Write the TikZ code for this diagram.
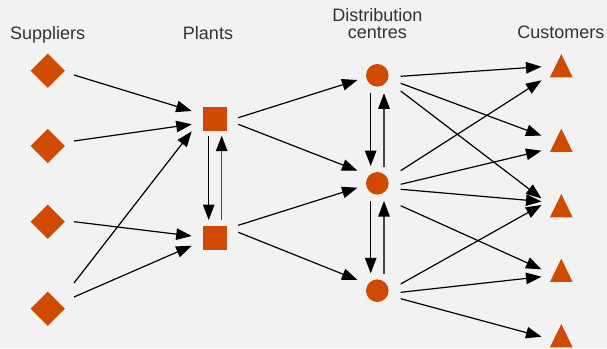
\documentclass[tikz,border=0pt]{standalone}
\usepackage{fontspec}
\setmainfont{Liberation Sans}
\usetikzlibrary{shapes.geometric,arrows.meta}
\definecolor{bg}{HTML}{F2F2F2}
\definecolor{pwcorange}{HTML}{D04A02}
\definecolor{labelgray}{HTML}{333333}
\tikzset{
  supplier/.style={diamond, fill=pwcorange, inner sep=0pt, minimum width=34.4pt, minimum height=34.4pt},
  plant/.style={rectangle, fill=pwcorange, inner sep=0pt, minimum size=24pt},
  centre/.style={circle, fill=pwcorange, inner sep=0pt, minimum size=22.6pt},
  customer/.style={rectangle, inner sep=0pt, minimum width=22.7pt, minimum height=23.3pt,
    path picture={\fill[pwcorange] (path picture bounding box.south west) -- (path picture bounding box.south east) -- (path picture bounding box.north) -- cycle;}},
  heading/.style={text=labelgray, font=\fontsize{18pt}{16.6pt}\selectfont, align=center, inner sep=0pt, anchor=base},
  flow/.style={draw=black, line width=1.2pt, -{Triangle[length=15.5pt, width=11.5pt, color=black]}},
  backflow/.style={flow, draw=black!72}
}
\begin{document}
\begin{tikzpicture}[x=1pt, y=-1pt]
  \fill[bg] (0,0) rectangle (607,348);
  \useasboundingbox (0,0) rectangle (607,348);

  % column headings
  \node[heading] (hsup) at (47.7,39.3) {Suppliers};
  \node[heading] (hpla) at (208,39.3) {Plants};
  \node[heading] (hdc1) at (377.3,21.7) {Distribution};
  \node[heading] (hdc2) at (377.3,38.3) {centres};
  \node[heading] (hcus) at (560.8,38.8) {Customers};

  % suppliers
  \node[supplier] (s1) at (47.7,70.7) {};
  \node[supplier] (s2) at (47.7,146) {};
  \node[supplier] (s3) at (47.7,221.7) {};
  \node[supplier] (s4) at (47.7,308.7) {};

  % plants
  \node[plant] (p1) at (215,118.7) {};
  \node[plant] (p2) at (215,238) {};

  % distribution centres
  \node[centre] (d1) at (377.3,75.3) {};
  \node[centre] (d2) at (377.3,183.3) {};
  \node[centre] (d3) at (377.3,290.7) {};

  % customers
  \node[customer] (c1) at (561.3,65.7) {};
  \node[customer] (c2) at (561.3,140.3) {};
  \node[customer] (c3) at (561.3,205.7) {};
  \node[customer] (c4) at (561.3,270.3) {};
  \node[customer] (c5) at (561.3,335.7) {};

  % suppliers to plants
  \draw[flow] ([shift={(26.3,4.3)}]s1.center) -- ([shift={(-23.3,-7.7)}]p1.center);
  \draw[flow] ([shift={(26.3,-5)}]s2.center) -- ([shift={(-23.3,5.6)}]p1.center);
  \draw[flow] ([shift={(26.3,-25.7)}]s4.center) -- ([shift={(-23.3,12.6)}]p1.center);
  \draw[flow] ([shift={(26.3,0)}]s3.center) -- ([shift={(-23.3,-2)}]p2.center);
  \draw[flow] ([shift={(26.3,-11.7)}]s4.center) -- ([shift={(-23.3,7.7)}]p2.center);

  % between plants
  \draw[flow] ([shift={(-6.3,17)}]p1.center) -- ([shift={(-6.3,-18)}]p2.center);
  \draw[backflow] ([shift={(6.7,-18)}]p2.center) -- ([shift={(6.7,17)}]p1.center);

  % plants to distribution centres
  \draw[flow] ([shift={(23.3,-1)}]p1.center) -- ([shift={(-19.8,4.7)}]d1.center);
  \draw[flow] ([shift={(23.3,5.6)}]p1.center) -- ([shift={(-19.8,-12.6)}]d2.center);
  \draw[flow] ([shift={(23.3,-12.7)}]p2.center) -- ([shift={(-19.8,4.4)}]d2.center);
  \draw[flow] ([shift={(23.3,-5.7)}]p2.center) -- ([shift={(-19.8,-10.7)}]d3.center);

  % between distribution centres
  \draw[flow] ([shift={(-6.6,17.4)}]d1.center) -- ([shift={(-6.6,-17.3)}]d2.center);
  \draw[backflow] ([shift={(6.7,-16.6)}]d2.center) -- ([shift={(6.7,18)}]d1.center);
  \draw[flow] ([shift={(-6.6,17.4)}]d2.center) -- ([shift={(-6.6,-17.4)}]d3.center);
  \draw[backflow] ([shift={(6.7,-16.7)}]d3.center) -- ([shift={(6.7,17.7)}]d2.center);

  % distribution centres to customers
  \draw[flow] ([shift={(23.4,1)}]d1.center) -- ([shift={(-19.8,1)}]c1.center);
  \draw[flow] ([shift={(23.4,8)}]d1.center) -- ([shift={(-19.8,-4.6)}]c2.center);
  \draw[flow] ([shift={(23.4,15.7)}]d1.center) -- ([shift={(-19.8,-7.2)}]c3.center);
  \draw[flow] ([shift={(23.4,-12.6)}]d2.center) -- ([shift={(-19.8,14.6)}]c1.center);
  \draw[flow] ([shift={(23.4,1)}]d2.center) -- ([shift={(-19.8,10.4)}]c2.center);
  \draw[flow] ([shift={(23.4,6)}]d2.center) -- ([shift={(-19.8,-4.2)}]c3.center);
  \draw[flow] ([shift={(23.4,22.4)}]d2.center) -- ([shift={(-19.8,-1)}]c4.center);
  \draw[flow] ([shift={(23.4,-6.7)}]d3.center) -- ([shift={(-19.8,-0.7)}]c3.center);
  \draw[flow] ([shift={(23.4,1.6)}]d3.center) -- ([shift={(-19.8,6.4)}]c4.center);
  \draw[flow] ([shift={(23.4,8)}]d3.center) -- ([shift={(-19.8,1)}]c5.center);
\end{tikzpicture}
\end{document}
